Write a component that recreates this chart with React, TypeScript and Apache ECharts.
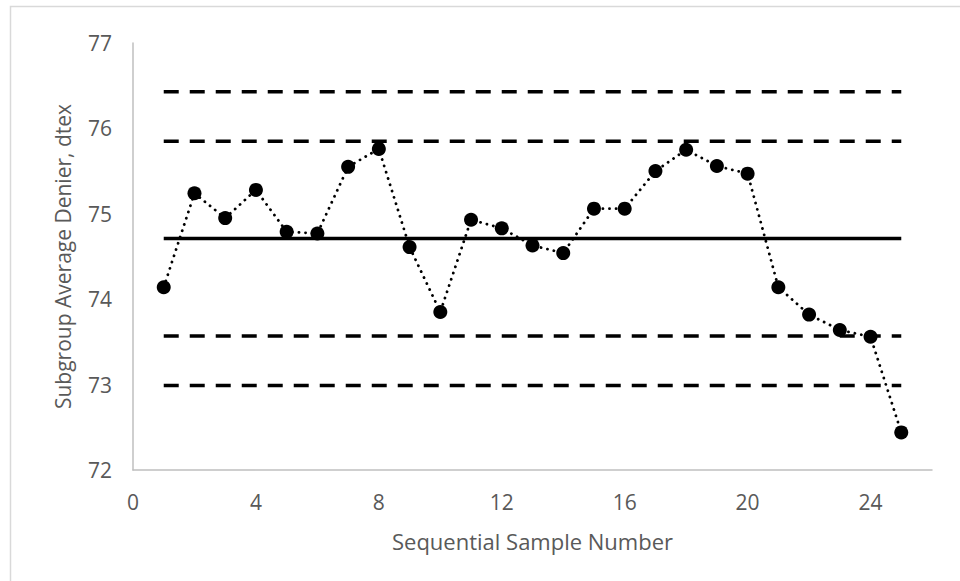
import React, { useEffect, useRef } from "react";
import * as echarts from "echarts";

const sampleNumbers = [1, 2, 3, 4, 5, 6, 7, 8, 9, 10, 11, 12, 13, 14, 15, 16, 17, 18, 19, 20, 21, 22, 23, 24, 25];
const averageDenier = [
  74.14, 75.24, 74.95, 75.28, 74.79, 74.77, 75.55, 75.76, 74.61, 73.85,
  74.93, 74.83, 74.63, 74.54, 75.06, 75.06, 75.5, 75.75, 75.56, 75.47,
  74.14, 73.82, 73.64, 73.56, 72.44,
];
const centerLine = 74.71;
const dashedLimits = [76.43, 75.85, 73.57, 72.99];
const limitSpan = [1, 25];
const xTicks = [0, 4, 8, 12, 16, 20, 24];

const FONT = "'Open Sans', sans-serif";
const GRAY = "#595959";

export default function App() {
  const ref = useRef<HTMLDivElement>(null);
  useEffect(() => {
    if (!ref.current) return;
    const chart = echarts.init(ref.current, null, { renderer: "svg" });
    const hLine = (v: number) => limitSpan.map((x) => [x, v]);
    const series: any[] = [];
    dashedLimits.forEach((v, i) => {
      series.push({
        type: "line",
        name: "limit" + i,
        data: hLine(v),
        symbol: "none",
        lineStyle: { color: "#000", width: 3.5, type: [15, 11] },
        z: 2,
      });
    });
    series.push({
      type: "line",
      name: "center",
      data: hLine(centerLine),
      symbol: "none",
      lineStyle: { color: "#000", width: 3.5, type: "solid" },
      z: 2,
    });
    series.push({
      type: "line",
      name: "avg",
      data: sampleNumbers.map((n, i) => [n, averageDenier[i]]),
      symbol: "circle",
      symbolSize: 14,
      itemStyle: { color: "#000" },
      lineStyle: { color: "#000", width: 2.8, type: [0.1, 6.5], cap: "round" },
      z: 3,
    });
    chart.setOption({
      animation: false,
      graphic: [
        {
          type: "rect",
          shape: { x: 10.5, y: 6.5, width: 1000, height: 1000 },
          style: { fill: "none", stroke: "#d9d9d9", lineWidth: 1.5 },
          silent: true,
        },
      ],
      grid: { left: 133, top: 43, right: 28, bottom: 111, containLabel: false },
      xAxis: {
        type: "value",
        min: 0,
        max: 26,
        interval: 4,
        name: "Sequential Sample Number",
        nameLocation: "middle",
        nameGap: 60,
        nameTextStyle: { color: GRAY, fontFamily: FONT, fontSize: 22 },
        axisLine: { show: true, lineStyle: { color: "#bfbfbf", width: 1.5 } },
        axisTick: { show: false },
        splitLine: { show: false },
        axisLabel: {
          color: GRAY,
          fontFamily: FONT,
          fontSize: 21,
          margin: 21,
          customValues: xTicks,
        },
      },
      yAxis: {
        type: "value",
        min: 72,
        max: 77,
        interval: 1,
        name: "Subgroup Average Denier, dtex",
        nameLocation: "middle",
        nameGap: 60,
        nameRotate: 90,
        nameTextStyle: { color: GRAY, fontFamily: FONT, fontSize: 21 },
        axisLine: { show: true, lineStyle: { color: "#bfbfbf", width: 1.5 } },
        axisTick: { show: false },
        splitLine: { show: false },
        axisLabel: { color: GRAY, fontFamily: FONT, fontSize: 21, margin: 21 },
      },
      series,
    });
    return () => chart.dispose();
  }, []);
  return (
    <div
      ref={ref}
      style={{ position: "fixed", left: 0, top: 0, width: 960, height: 581, background: "#fff" }}
    />
  );
}
